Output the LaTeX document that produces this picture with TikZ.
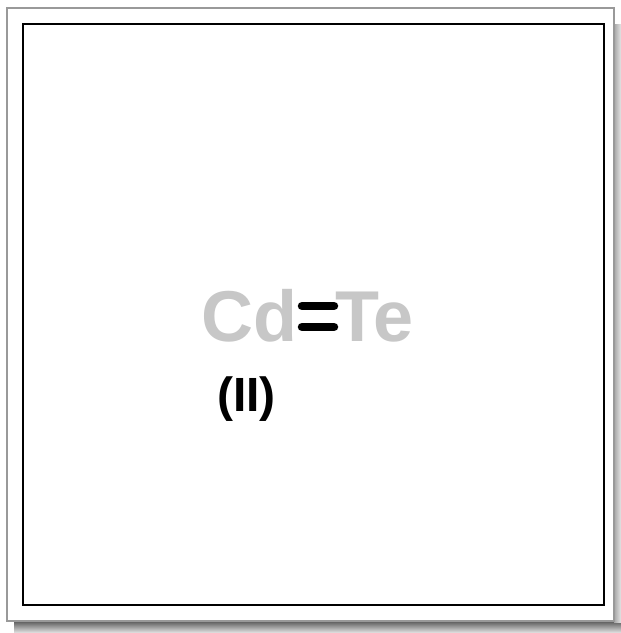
\documentclass[tikz,border=0pt]{standalone}
\usepackage{fontspec}
\setmainfont{Liberation Sans}
\begin{document}
\begin{tikzpicture}[x=1pt,y=-1pt,
  elem/.style={inner sep=0pt,text=black!22,font=\bfseries\fontsize{72}{72}\selectfont},
  ox/.style={inner sep=0pt,text=black,font=\bfseries\fontsize{48}{48}\selectfont},
  bond/.style={line width=8.5pt,line cap=round,black}]
\useasboundingbox (0,0) rectangle (621,633);
% shadow
\shade[top color=black!65,bottom color=black!10] (14,621) rectangle (621,633);
\shade[left color=black!35,right color=black!10] (614,24) rectangle (621,622);
% outer frame
\draw[black!40,line width=1.5pt,fill=white] (7,8) rectangle (614,621);
% inner frame
\draw[black,line width=1.5pt] (23,24) rectangle (604,605);
% formula
\node[elem,anchor=base east] (cd) at (298,341) {Cd};
\node[elem,anchor=base west] (te) at (335,341) {Te};
\coordinate (b1a) at (302,306);
\coordinate (b1b) at (334,306);
\coordinate (b2a) at (302,327);
\coordinate (b2b) at (334,327);
\draw[bond] (b1a) -- (b1b);
\draw[bond] (b2a) -- (b2b);
\node[ox,anchor=base west] (ox) at (217,411) {(II)};
\end{tikzpicture}
\end{document}
